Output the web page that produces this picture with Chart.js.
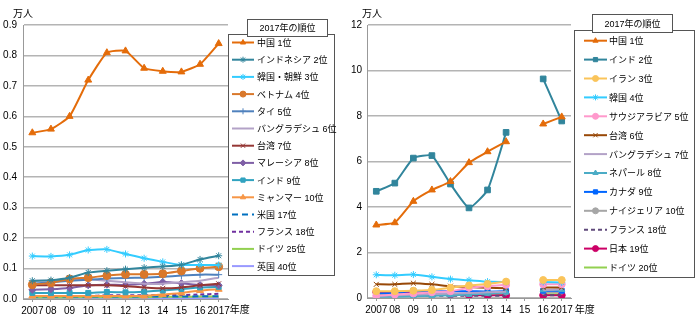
<!DOCTYPE html>
<html lang="ja">
<head>
<meta charset="utf-8">
<script src="https://cdn.jsdelivr.net/npm/chart.js@4.4.1/dist/chart.umd.min.js"></script>
<style>
  html, body { margin: 0; padding: 0; background: #fff; }
  #wrap { position: relative; width: 700px; height: 322px; }
  .pane { position: absolute; top: 0; width: 350px; height: 322px; }
  #leftPane { left: 0; }
  #rightPane { left: 350px; }
</style>
</head>
<body>
<div id="wrap">
  <div class="pane" id="leftPane"><canvas id="leftChart" width="350" height="322"></canvas></div>
  <div class="pane" id="rightPane"><canvas id="rightChart" width="350" height="322"></canvas></div>
</div>
<script>
const years = ['2007', '08', '09', '10', '11', '12', '13', '14', '15', '16', '2017'];
const leftTicks = [0, 0.1, 0.2, 0.3, 0.4, 0.5, 0.6, 0.7, 0.8, 0.9];
const rightTicks = [0, 2, 4, 6, 8, 10, 12];

// left panel (万人)
const lChina      = [0.546, 0.558, 0.600, 0.719, 0.809, 0.815, 0.758, 0.748, 0.746, 0.771, 0.839];
const lIndonesia  = [0.060, 0.062, 0.070, 0.087, 0.093, 0.098, 0.103, 0.107, 0.112, 0.130, 0.142];
const lKorea      = [0.141, 0.140, 0.145, 0.161, 0.163, 0.148, 0.134, 0.122, 0.112, 0.112, 0.112];
const lVietnam    = [0.047, 0.053, 0.066, 0.070, 0.077, 0.081, 0.081, 0.083, 0.092, 0.101, 0.106];
const lThai       = [0.050, 0.055, 0.060, 0.063, 0.067, 0.069, 0.070, 0.073, 0.077, 0.080, 0.080];
const lBangla     = [0.060, 0.060, 0.063, 0.065, 0.060, 0.055, 0.050, 0.050, 0.055, 0.060, 0.070];
const lTaiwan     = [0.045, 0.045, 0.045, 0.045, 0.045, 0.042, 0.038, 0.035, 0.038, 0.045, 0.050];
const lMalaysia   = [0.030, 0.032, 0.036, 0.045, 0.047, 0.046, 0.050, 0.056, 0.052, 0.046, 0.045];
const lIndia      = [0.020, 0.020, 0.020, 0.020, 0.023, 0.022, 0.024, 0.028, 0.033, 0.038, 0.040];
const lMyanmar    = [0.010, 0.010, 0.010, 0.010, 0.010, 0.010, 0.010, 0.015, 0.020, 0.028, 0.032];
const lUS         = [0.008, 0.008, 0.008, 0.008, 0.008, 0.008, 0.008, 0.008, 0.008, 0.009, 0.009];
const lFrance     = [0.010, 0.010, 0.010, 0.010, 0.012, 0.012, 0.012, 0.013, 0.013, 0.015, 0.017];
const lGermany    = [0.005, 0.005, 0.005, 0.006, 0.006, 0.006, 0.006, 0.007, 0.007, 0.008, 0.008];
const lUK         = [0.003, 0.003, 0.003, 0.003, 0.003, 0.003, 0.003, 0.003, 0.003, 0.003, 0.003];

// right panel (万人), no figures for 2015
const rChina      = [3.21, 3.31, 4.25, 4.75, 5.12, 5.95, 6.43, 6.87, null, 7.65, 7.96];
const rIndia      = [4.69, 5.05, 6.15, 6.26, 5.01, 3.96, 4.75, 7.28, null, 9.63, 7.78];
const rIran       = [0.30, 0.30, 0.32, 0.35, 0.45, 0.55, 0.62, 0.72, null, 0.79, 0.79];
const rKorea      = [1.02, 1.00, 1.03, 0.93, 0.83, 0.78, 0.72, 0.70, null, 0.70, 0.68];
const rSaudi      = [0.10, 0.15, 0.20, 0.25, 0.30, 0.45, 0.52, 0.58, null, 0.60, 0.60];
const rTaiwan     = [0.60, 0.60, 0.65, 0.60, 0.52, 0.48, 0.45, 0.43, null, 0.46, 0.46];
const rBangla     = [0.10, 0.12, 0.15, 0.18, 0.20, 0.22, 0.25, 0.28, null, 0.35, 0.38];
const rNepal      = [0.05, 0.06, 0.08, 0.10, 0.12, 0.15, 0.20, 0.25, null, 0.35, 0.36];
const rCanada     = [0.20, 0.22, 0.32, 0.30, 0.30, 0.30, 0.28, 0.30, null, 0.32, 0.32];
const rNigeria    = [0.10, 0.10, 0.12, 0.12, 0.15, 0.18, 0.20, 0.22, null, 0.25, 0.26];
const rFrance     = [0.10, 0.10, 0.10, 0.10, 0.10, 0.10, 0.10, 0.10, null, 0.12, 0.12];
const rJapan      = [0.26, 0.25, 0.22, 0.18, 0.15, 0.12, 0.12, 0.12, null, 0.12, 0.12];
const rGermany    = [0.15, 0.15, 0.15, 0.15, 0.14, 0.14, 0.14, 0.14, null, 0.16, 0.16];

const FONT = "'Liberation Sans', Arial, sans-serif";
const JFONT = "'Liberation Sans', 'Noto Sans CJK JP', sans-serif";

function series(label, data, color, style, opts = {}) {
  return Object.assign({
    label,
    data,
    borderColor: color,
    backgroundColor: color,
    pointBackgroundColor: color,
    pointBorderColor: color,
    borderWidth: 2,
    pointStyle: style || false,
    pointRadius: style ? 3.5 : 0,
    pointBorderWidth: 1,
    tension: 0.15,
    spanGaps: false,
  }, opts);
}

// framed legend with a title tab, drawn on the canvas
const boxLegend = {
  id: 'boxLegend',
  afterDraw(chart, args, o) {
    const ctx = chart.ctx;
    ctx.save();
    ctx.strokeStyle = '#555';
    ctx.lineWidth = 1;
    ctx.fillStyle = '#fff';
    ctx.fillRect(o.box.x, o.box.y, o.box.w, o.box.h);
    ctx.strokeRect(o.box.x, o.box.y, o.box.w, o.box.h);
    ctx.fillRect(o.tab.x, o.tab.y, o.tab.w, o.tab.h);
    ctx.strokeRect(o.tab.x, o.tab.y, o.tab.w, o.tab.h);
    ctx.fillStyle = '#000';
    ctx.font = '9px ' + JFONT;
    ctx.textAlign = 'center';
    ctx.textBaseline = 'middle';
    ctx.fillText(o.title, o.tab.x + o.tab.w / 2, o.tab.y + o.tab.h / 2 + 1);

    ctx.textAlign = 'left';
    chart.data.datasets.forEach((ds, i) => {
      const y = o.rowY + i * o.rowGap;
      ctx.save();
      ctx.strokeStyle = ds.borderColor;
      ctx.lineWidth = ds.borderWidth;
      ctx.setLineDash(ds.borderDash || []);
      ctx.beginPath();
      ctx.moveTo(o.lineX0, y);
      ctx.lineTo(o.lineX1, y);
      ctx.stroke();
      ctx.restore();
      if (ds.pointStyle) {
        ctx.save();
        ctx.fillStyle = ds.pointBackgroundColor;
        ctx.strokeStyle = ds.pointBorderColor;
        ctx.lineWidth = 1;
        Chart.helpers.drawPoint(ctx, { pointStyle: ds.pointStyle, radius: 3, rotation: 0, borderWidth: 1 },
          (o.lineX0 + o.lineX1) / 2, y);
        ctx.restore();
      }
      ctx.fillStyle = '#000';
      ctx.fillText(ds.label, o.textX, y + 1);
    });
    ctx.restore();
  }
};

// unit caption and the trailing 年度 after the last year
const captions = {
  id: 'captions',
  afterDraw(chart, args, o) {
    const ctx = chart.ctx;
    const x = chart.scales.x;
    ctx.save();
    ctx.fillStyle = '#000';
    ctx.font = '10px ' + JFONT;
    ctx.textBaseline = 'middle';
    ctx.textAlign = 'left';
    ctx.fillText('万人', o.unitX, 14);
    ctx.fillText('年度', x.getPixelForValue(years.length - 1) + o.yearGap, o.yearY);
    ctx.restore();
  }
};

function makeChart(id, datasets, ticks, cfg) {
  return new Chart(document.getElementById(id), {
    type: 'line',
    data: { labels: years, datasets },
    plugins: [boxLegend, captions],
    options: {
      responsive: false,
      animation: false,
      devicePixelRatio: 1,
      layout: { padding: { left: 0, top: 25, right: cfg.padRight, bottom: 0 } },
      plugins: {
        legend: { display: false },
        tooltip: { enabled: false },
        boxLegend: cfg.legend,
        captions: cfg.captions,
      },
      scales: {
        x: {
          offset: true,
          afterFit: (s) => { s.height = cfg.xHeight; },
          grid: { drawOnChartArea: false, drawTicks: true, tickLength: 3, color: '#999' },
          border: { color: '#999', width: 1 },
          ticks: { color: '#000', font: { family: FONT, size: 10 }, padding: 3, maxRotation: 0, autoSkip: false },
        },
        y: {
          min: 0,
          max: ticks[ticks.length - 1],
          afterFit: (s) => { s.width = cfg.yWidth; },
          afterBuildTicks: (s) => { s.ticks = ticks.map(v => ({ value: v })); },
          grid: { color: '#b4b4b4', lineWidth: 1.5, drawTicks: false },
          border: { color: '#999', width: 1 },
          ticks: {
            color: '#000',
            font: { family: FONT, size: 10 },
            padding: cfg.yPad,
            callback: cfg.fmt,
          },
        },
      },
    },
  });
}

makeChart('leftChart', [
  series('中国 1位', lChina, '#e46c0a', 'triangle', { pointRadius: 4 }),
  series('インドネシア 2位', lIndonesia, '#31859c', 'star'),
  series('韓国・朝鮮 3位', lKorea, '#33ccff', 'star'),
  series('ベトナム 4位', lVietnam, '#d9782b', 'circle', { pointRadius: 4 }),
  series('タイ 5位', lThai, '#4f81bd', 'cross'),
  series('バングラデシュ 6位', lBangla, '#b3a2c7', false),
  series('台湾 7位', lTaiwan, '#953735', 'crossRot'),
  series('マレーシア 8位', lMalaysia, '#7f5fa6', 'rectRot'),
  series('インド 9位', lIndia, '#31a3c0', 'rect'),
  series('ミャンマー 10位', lMyanmar, '#f79646', 'triangle', { pointRadius: 4 }),
  series('米国 17位', lUS, '#0070c0', false, { borderDash: [6, 4] }),
  series('フランス 18位', lFrance, '#7030a0', false, { borderDash: [4, 3] }),
  series('ドイツ 25位', lGermany, '#92d050', false),
  series('英国 40位', lUK, '#9999ff', false),
], leftTicks, {
  padRight: 122, xHeight: 23, yWidth: 23, yPad: 6,
  fmt: (v) => v.toFixed(1),
  legend: {
    box: { x: 228.5, y: 34.5, w: 106, h: 241 },
    tab: { x: 247.5, y: 19.5, w: 80, h: 17 },
    title: '2017年の順位',
    rowY: 42.5, rowGap: 17.2, lineX0: 232, lineX1: 254, textX: 257,
  },
  captions: { unitX: 13, yearGap: 11, yearY: 310 },
});

makeChart('rightChart', [
  series('中国 1位', rChina, '#e46c0a', 'triangle', { pointRadius: 4 }),
  series('インド 2位', rIndia, '#31859c', 'rect', { pointRadius: 4 }),
  series('イラン 3位', rIran, '#fac45a', 'circle'),
  series('韓国 4位', rKorea, '#33ccff', 'star'),
  series('サウジアラビア 5位', rSaudi, '#ff99cc', 'circle'),
  series('台湾 6位', rTaiwan, '#984807', 'crossRot'),
  series('バングラデシュ 7位', rBangla, '#b3a2c7', false),
  series('ネパール 8位', rNepal, '#4bacc6', 'triangle'),
  series('カナダ 9位', rCanada, '#0066ff', 'rect'),
  series('ナイジェリア 10位', rNigeria, '#a6a6a6', 'circle', { pointRadius: 2 }),
  series('フランス 18位', rFrance, '#604a7b', false, { borderDash: [4, 3] }),
  series('日本 19位', rJapan, '#cc0066', 'circle', { pointRadius: 3.5 }),
  series('ドイツ 20位', rGermany, '#92d050', false),
], rightTicks, {
  padRight: 129, xHeight: 24, yWidth: 17, yPad: 5,
  fmt: (v) => String(v),
  legend: {
    box: { x: 224.5, y: 30.5, w: 120, h: 247 },
    tab: { x: 242.5, y: 14.5, w: 80, h: 18 },
    title: '2017年の順位',
    rowY: 40.7, rowGap: 18.9, lineX0: 234, lineX1: 257, textX: 259,
  },
  captions: { unitX: 12, yearGap: 13, yearY: 310 },
});
</script>
</body>
</html>
